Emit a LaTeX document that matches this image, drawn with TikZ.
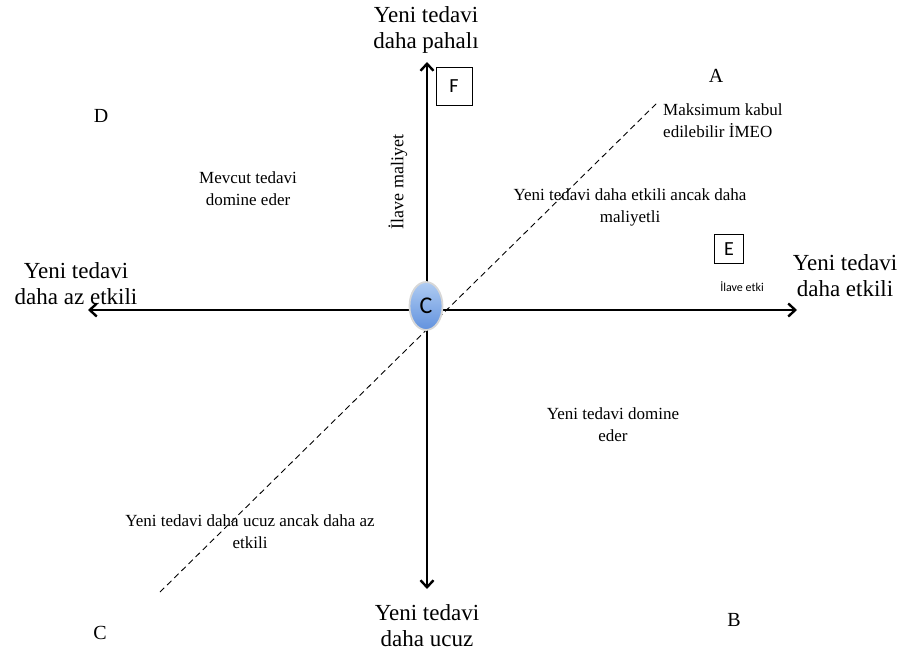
\documentclass[tikz,border=0pt]{standalone}
\usepackage{fontspec}
\setmainfont{Liberation Serif}
\newfontfamily\carl{Carlito}
\usetikzlibrary{arrows.meta,shapes.geometric}
\definecolor{elltop}{RGB}{176,204,242}
\definecolor{ellbot}{RGB}{98,146,222}
\definecolor{ellrim}{RGB}{215,215,215}
\begin{document}
\begin{tikzpicture}[x=1pt,y=-1pt,
  big/.style={font=\fontsize{23}{26}\selectfont, align=center, inner sep=0pt},
  mid/.style={font=\fontsize{17}{22}\selectfont, align=center, inner sep=0pt},
  letter/.style={font=\fontsize{20}{24}\selectfont, inner sep=0pt},
  axis/.style={line width=2.6pt, -{Straight Barb[length=7pt,width=13pt,line width=2.4pt]}},
  boxlbl/.style={draw, line width=0.8pt, font=\carl\fontsize{20}{24}\selectfont, inner sep=0pt}]
\useasboundingbox (0,0) rectangle (907,655);
% axes endpoints
\coordinate (ctr) at (427,310);
\coordinate (top) at (427,62);
\coordinate (bot) at (427,589);
\coordinate (lft) at (88,310);
\coordinate (rgt) at (797,310);
\coordinate (d1) at (160,592);
\coordinate (d2) at (658,102);
\draw[line width=0.9pt, dash pattern=on 6pt off 4pt] (d1) -- (d2);
\draw[axis] (ctr) -- (top);
\draw[axis] (ctr) -- (bot);
\draw[axis] (ctr) -- (lft);
\draw[axis] (ctr) -- (rgt);
\node[ellipse, draw=ellrim, line width=1.8pt, top color=elltop, bottom color=ellbot, minimum width=33pt, minimum height=48pt, inner sep=0pt, font=\carl\fontsize{24}{28}\selectfont] (cnode) at (426,306) {C};
% boxes
\node[boxlbl, minimum width=36pt, minimum height=38pt] (F) at (454,86) {F};
\node[boxlbl, minimum width=29pt, minimum height=29pt] (E) at (729,249) {E};
\node[font=\carl\fontsize{12}{14}\selectfont, inner sep=0pt] (ilaveetki) at (742,287) {İlave etki};
\node[font=\fontsize{18}{22}\selectfont, inner sep=0pt, rotate=90] (ilavemal) at (398,182) {İlave maliyet};
% axis labels
\node[big] (ptop) at (426,30) {Yeni tedavi\\daha pahalı};
\node[big] (pbot) at (427,626) {Yeni tedavi\\daha ucuz};
\node[big] (plft) at (76,284) {Yeni tedavi\\daha az etkili};
\node[big] (prgt) at (845,276) {Yeni tedavi\\daha etkili};
% letters
\node[letter] (A) at (716,76) {A};
\node[letter] (D) at (101,116) {D};
\node[letter] (Cl) at (100,633) {C};
\node[letter] (B) at (734,620) {B};
% region texts
\node[mid, align=left, anchor=west] (maks) at (663,121) {Maksimum kabul\\edilebilir İMEO};
\node[mid] (mevcut) at (248,189) {Mevcut tedavi\\domine eder};
\node[mid] (etkili) at (630,207) {Yeni tedavi daha etkili ancak daha\\maliyetli};
\node[mid] (domine) at (613,425) {Yeni tedavi domine\\eder};
\node[mid] (ucuz) at (250,532) {Yeni tedavi daha ucuz ancak daha az\\etkili};
\end{tikzpicture}
\end{document}
